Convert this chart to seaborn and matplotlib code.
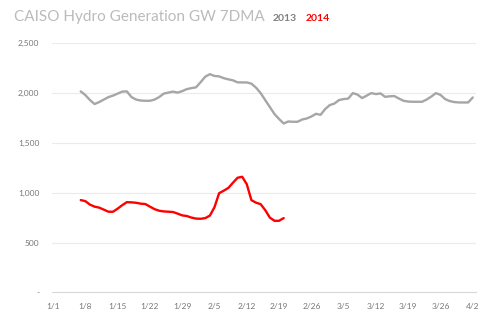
import numpy as np
import pandas as pd
import matplotlib
matplotlib.use("Agg")
import matplotlib.pyplot as plt
import seaborn as sns

# ---- data (7-day moving average hydro generation, GW scaled as MW-like units) ----
tick_labels = ["1/1", "1/8", "1/15", "1/22", "1/29", "2/5", "2/12", "2/19",
               "2/26", "3/5", "3/12", "3/19", "3/26", "4/2"]
tick_days = [0, 7, 14, 21, 28, 35, 42, 49, 56, 63, 70, 77, 84, 91]

start_day_2013 = 6
values_2013 = [2017, 1980, 1930, 1890, 1910, 1935, 1960, 1975, 1995, 2015,
               2017, 1960, 1935, 1925, 1923, 1923, 1935, 1960, 1995, 2005,
               2015, 2005, 2020, 2040, 2050, 2058, 2110, 2165, 2190, 2172,
               2168, 2150, 2138, 2128, 2108, 2107, 2107, 2095, 2055, 2000,
               1930, 1860, 1790, 1740, 1695, 1715, 1712, 1712, 1735, 1745,
               1765, 1792, 1782, 1840, 1880, 1895, 1930, 1940, 1945, 2000,
               1985, 1950, 1975, 2000, 1990, 1997, 1962, 1968, 1970, 1945,
               1923, 1915, 1913, 1913, 1913, 1935, 1965, 2000, 1982, 1940,
               1920, 1910, 1906, 1906, 1906, 1956]

start_day_2014 = 6
values_2014 = [926, 915, 880, 860, 850, 830, 809, 809, 840, 875,
               905, 903, 899, 890, 886, 860, 835, 819, 812, 809,
               806, 790, 772, 766, 750, 740, 738, 745, 770, 855,
               995, 1020, 1048, 1100, 1150, 1160, 1085, 925, 900, 885,
               825, 750, 718, 718, 745]

y_ticks = [0, 500, 1000, 1500, 2000, 2500]
y_tick_labels = ["-", "500", "1,000", "1,500", "2,000", "2,500"]

df = pd.concat([
    pd.DataFrame({"day": np.arange(start_day_2013, start_day_2013 + len(values_2013)),
                  "value": values_2013, "year": "2013"}),
    pd.DataFrame({"day": np.arange(start_day_2014, start_day_2014 + len(values_2014)),
                  "value": values_2014, "year": "2014"}),
])

sns.set_theme(style="white")
plt.rcParams["font.family"] = ["Lato", "DejaVu Sans"]

fig = plt.figure(figsize=(5.04, 3.27), dpi=100)
ax = fig.add_axes([51.7 / 504, 1 - 292.3 / 327, (476 - 51.7) / 504, (292.3 - 43.3) / 327])

sns.lineplot(data=df, x="day", y="value", hue="year",
             palette={"2013": "#a6a6a6", "2014": "#ff0000"},
             linewidth=1.7, legend=False, ax=ax)

ax.set_xlim(-0.3, 91.7)
ax.set_ylim(0, 2500)
ax.set_yticks(y_ticks)
ax.set_yticklabels(y_tick_labels)
ax.set_xticks(tick_days)
ax.set_xticklabels(tick_labels)
ax.set_xlabel("")
ax.set_ylabel("")
ax.yaxis.grid(True, color="#ebebeb", linewidth=0.8)
ax.set_axisbelow(True)
for s in ["top", "right", "left"]:
    ax.spines[s].set_visible(False)
ax.spines["bottom"].set_color("#d9d9d9")
ax.spines["bottom"].set_linewidth(0.8)
ax.tick_params(axis="both", length=0, labelsize=6, labelcolor="#777777")
ax.tick_params(axis="x", pad=8)
ax.tick_params(axis="y", pad=9)

fig.text(14 / 504, 1 - 21 / 327, "CAISO Hydro Generation GW 7DMA",
         fontsize=11, color="#bbbbbb", ha="left", va="baseline")
fig.text(273 / 504, 1 - 21 / 327, "2013", fontsize=7.5, fontweight="bold",
         color="#7f7f7f", ha="left", va="baseline")
fig.text(306 / 504, 1 - 21 / 327, "2014", fontsize=7.5, fontweight="bold",
         color="#ff0000", ha="left", va="baseline")

fig.savefig("out.png", dpi=100)
